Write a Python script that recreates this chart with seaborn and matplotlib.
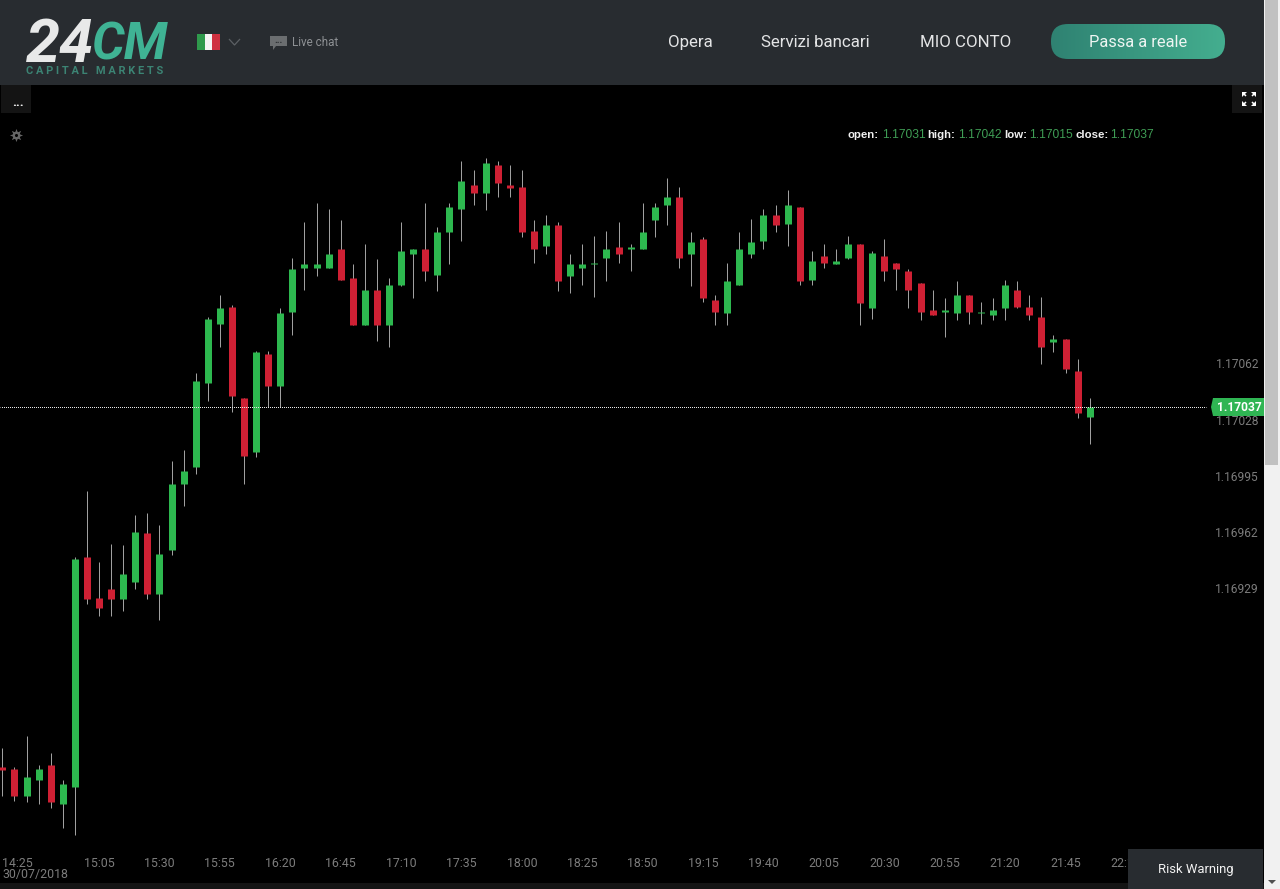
import numpy as np
import pandas as pd
import seaborn as sns
import matplotlib.pyplot as plt
from matplotlib.patches import Rectangle, Polygon, FancyBboxPatch

# 5 minute candles, 30/07/2018
opens = [
    1.16824, 1.16823, 1.16807, 1.16816, 1.16825, 1.16802, 1.16812, 1.16948, 1.16924, 1.16929,
    1.16923, 1.16933, 1.16962, 1.16926, 1.16952, 1.16991, 1.17001, 1.17051, 1.17086, 1.17096,
    1.17042, 1.17010, 1.17068, 1.17049, 1.17093, 1.17119, 1.17119, 1.17119, 1.17130, 1.17113,
    1.17085, 1.17106, 1.17085, 1.17109, 1.17127, 1.17130, 1.17115, 1.17140, 1.17154, 1.17168,
    1.17163, 1.17180, 1.17168, 1.17167, 1.17141, 1.17132, 1.17144, 1.17114, 1.17119, 1.17121,
    1.17125, 1.17131, 1.17130, 1.17130, 1.17147, 1.17156, 1.17161, 1.17127, 1.17136, 1.17100,
    1.17092, 1.17109, 1.17127, 1.17135, 1.17150, 1.17145, 1.17155, 1.17112, 1.17126, 1.17121,
    1.17125, 1.17133, 1.17095, 1.17126, 1.17122, 1.17117, 1.17110, 1.17094, 1.17093, 1.17092,
    1.17103, 1.17092, 1.17091, 1.17095, 1.17106, 1.17096, 1.17090, 1.17075, 1.17077, 1.17058,
    1.17031,
]
closes = [
    1.16822, 1.16807, 1.16818, 1.16823, 1.16803, 1.16814, 1.16947, 1.16923, 1.16918, 1.16923,
    1.16938, 1.16963, 1.16926, 1.16950, 1.16991, 1.16999, 1.17052, 1.17089, 1.17095, 1.17043,
    1.17008, 1.17069, 1.17049, 1.17092, 1.17118, 1.17121, 1.17121, 1.17127, 1.17112, 1.17085,
    1.17106, 1.17085, 1.17109, 1.17129, 1.17130, 1.17117, 1.17140, 1.17155, 1.17170, 1.17163,
    1.17181, 1.17169, 1.17166, 1.17140, 1.17130, 1.17144, 1.17111, 1.17121, 1.17121, 1.17122,
    1.17130, 1.17127, 1.17131, 1.17140, 1.17155, 1.17161, 1.17125, 1.17134, 1.17101, 1.17093,
    1.17111, 1.17130, 1.17134, 1.17150, 1.17144, 1.17156, 1.17111, 1.17123, 1.17122, 1.17123,
    1.17133, 1.17098, 1.17128, 1.17117, 1.17118, 1.17106, 1.17093, 1.17091, 1.17094, 1.17103,
    1.17093, 1.17093, 1.17094, 1.17109, 1.17096, 1.17091, 1.17072, 1.17077, 1.17059, 1.17033,
    1.17037,
]
highs = [
    1.16835, 1.16824, 1.16842, 1.16825, 1.16832, 1.16816, 1.16948, 1.16987, 1.16945, 1.16956,
    1.16955, 1.16973, 1.16974, 1.16967, 1.17005, 1.17011, 1.17057, 1.17090, 1.17103, 1.17097,
    1.17042, 1.17070, 1.17070, 1.17095, 1.17125, 1.17146, 1.17157, 1.17154, 1.17147, 1.17121,
    1.17133, 1.17124, 1.17113, 1.17146, 1.17130, 1.17157, 1.17143, 1.17157, 1.17182, 1.17177,
    1.17184, 1.17182, 1.17180, 1.17177, 1.17147, 1.17150, 1.17146, 1.17127, 1.17133, 1.17138,
    1.17141, 1.17146, 1.17133, 1.17157, 1.17157, 1.17172, 1.17167, 1.17140, 1.17137, 1.17103,
    1.17122, 1.17140, 1.17148, 1.17154, 1.17156, 1.17165, 1.17155, 1.17129, 1.17133, 1.17130,
    1.17138, 1.17133, 1.17129, 1.17136, 1.17122, 1.17118, 1.17110, 1.17106, 1.17101, 1.17111,
    1.17103, 1.17099, 1.17101, 1.17112, 1.17111, 1.17103, 1.17102, 1.17079, 1.17077, 1.17065,
    1.17042,
]
lows = [
    1.16807, 1.16804, 1.16803, 1.16802, 1.16800, 1.16788, 1.16784, 1.16920, 1.16913, 1.16913,
    1.16916, 1.16929, 1.16923, 1.16911, 1.16949, 1.16978, 1.16997, 1.17040, 1.17072, 1.17034,
    1.16991, 1.17007, 1.17037, 1.17037, 1.17079, 1.17106, 1.17114, 1.17119, 1.17112, 1.17085,
    1.17085, 1.17076, 1.17072, 1.17108, 1.17101, 1.17111, 1.17105, 1.17121, 1.17135, 1.17156,
    1.17153, 1.17161, 1.17161, 1.17137, 1.17122, 1.17127, 1.17105, 1.17104, 1.17109, 1.17102,
    1.17111, 1.17122, 1.17117, 1.17130, 1.17137, 1.17144, 1.17119, 1.17108, 1.17099, 1.17085,
    1.17085, 1.17109, 1.17125, 1.17130, 1.17140, 1.17132, 1.17109, 1.17109, 1.17119, 1.17121,
    1.17124, 1.17085, 1.17089, 1.17111, 1.17106, 1.17095, 1.17088, 1.17091, 1.17078, 1.17088,
    1.17086, 1.17086, 1.17088, 1.17088, 1.17095, 1.17088, 1.17062, 1.17069, 1.17057, 1.17030,
    1.17015,
]
price_ticks = [1.17062, 1.17028, 1.16995, 1.16962, 1.16929]
time_ticks = [0, 8, 13, 18, 23, 28, 33, 38, 43, 48, 53, 58, 63, 68, 73, 78, 83, 88, 93]
time_labels = ['14:25\n30/07/2018', '15:05', '15:30', '15:55', '16:20', '16:45', '17:10',
               '17:35', '18:00', '18:25', '18:50', '19:15', '19:40', '20:05', '20:30',
               '20:55', '21:20', '21:45', '22:10']

GREEN = '#2db84f'
RED = '#cf2034'
HEADER = '#282c30'

sns.set_theme(style='dark', rc={'lines.solid_capstyle': 'butt', 'axes.grid': False})
plt.rcParams['font.family'] = ['Roboto', 'DejaVu Sans']

fig = plt.figure(figsize=(12.8, 8.89), dpi=100, facecolor='#f1f1f1')

# chart area goes from y=85 to y=883, x=0 to x=1264
ax = fig.add_axes([0, (889 - 883) / 889, 1264 / 1280, (883 - 85) / 889], facecolor='black')

candles = np.arange(len(opens))
df = pd.DataFrame({'candle': candles, 'open': opens, 'high': highs, 'low': lows, 'close': closes})
df['direction'] = np.where(df['close'] >= df['open'], 'up', 'down')

wicks = df.melt(id_vars='candle', value_vars=['low', 'high'], value_name='price').sort_values('candle')
bodies = df.melt(id_vars=['candle', 'direction'], value_vars=['open', 'close'], value_name='price').sort_values('candle')

sns.lineplot(data=wicks, x='candle', y='price', units='candle', estimator=None, sort=False,
             color='#a0a0a0', linewidth=0.72, legend=False, ax=ax)
sns.lineplot(data=bodies, x='candle', y='price', units='candle', hue='direction',
             palette={'up': GREEN, 'down': RED}, estimator=None, sort=False,
             linewidth=5.04, legend=False, ax=ax)

ax.set_xlim(-0.2, 104.43)
ax.set_ylim(1.167554, 1.17227)
ax.set_xlabel('')
ax.set_ylabel('')
sns.despine(ax=ax, left=True, bottom=True)

# last price line, dotted with the dots lined up on whole pixels
ax.plot([-0.2, 99.66], [closes[-1], closes[-1]], color='#e8e8e8', linewidth=0.72,
        linestyle=(0.5, (1, 1)), zorder=5)

ax.yaxis.tick_right()
ax.set_yticks(price_ticks)
ax.set_yticklabels([f'{p:.5f}' for p in price_ticks], color='#7c7c7c', fontsize=8.64, ha='right', va='center')
ax.tick_params(axis='y', length=0, pad=-3.6)
ax.set_xticks(time_ticks)
ax.set_xticklabels(time_labels, color='#7c7c7c', fontsize=8.9, linespacing=0.85)
ax.tick_params(axis='x', length=0, pad=-19)
ax.get_xticklabels()[0].set_ha('left')

# page chrome on a pixel-sized overlay
ui = fig.add_axes([0, 0, 1, 1], facecolor='none', zorder=10)
ui.set_xlim(0, 1280)
ui.set_ylim(889, 0)
ui.axis('off')

ui.add_patch(Rectangle((0, 0), 1264, 85, color=HEADER, lw=0))
ui.add_patch(Rectangle((0, 883), 1264, 6, color='#141414', lw=0))
ui.add_patch(Rectangle((1265, 0), 13, 465, color='#c1c1c1', lw=0))
ui.add_patch(Polygon([(1268, 880), (1276, 880), (1272, 884)], color='#505050', lw=0))

# logo
narrow = ['Liberation Sans Narrow', 'Roboto']
ui.text(26, 62, '24', color='#e8e9e9', fontsize=44, fontweight='bold', style='italic',
        family=narrow, va='baseline')
ui.text(91, 60, 'CM', color='#3fb394', fontsize=37, fontweight='bold', style='italic',
        family=narrow, va='baseline')
ui.text(26, 71, 'C A P I T A L   M A R K E T S', color='#3c8474', fontsize=7.9, fontweight='bold',
        va='center')

# flag, language arrow, live chat
ui.add_patch(Rectangle((197, 34), 7.5, 16, color='#2f9a4c', lw=0))
ui.add_patch(Rectangle((204.5, 34), 7.5, 16, color='#f4f4f4', lw=0))
ui.add_patch(Rectangle((212, 34), 7.5, 16, color='#cf3040', lw=0))
ui.plot([229, 234.5, 240], [39, 45, 39], color='#5c6064', linewidth=0.9)
ui.add_patch(Polygon([(270, 36), (287, 36), (287, 46), (276, 46), (273, 50), (273, 46), (270, 46)],
                     color='#6b6e70', lw=0))
ui.text(278.5, 40, '...', color='#2a2d30', fontsize=7, fontweight='bold', ha='center', va='center')
ui.text(292, 42, 'Live chat', color='#8e9194', fontsize=8.4, va='center')

# nav
for x, label in [(668, 'Opera'), (761, 'Servizi bancari'), (920, 'MIO CONTO')]:
    ui.text(x, 47, label, color='#e4e5e6', fontsize=12.2, va='baseline')

button = FancyBboxPatch((1051 + 17, 24 + 17), 174 - 34, 35 - 34, boxstyle='round,pad=17,rounding_size=17',
                        fc='none', ec='none', transform=ui.transData)
ui.add_patch(button)
grad = ui.imshow(np.linspace(0, 1, 256).reshape(1, -1), extent=(1051, 1225, 59, 24), aspect='auto',
                 cmap=sns.blend_palette(['#2f8272', '#44ae8f'], as_cmap=True), zorder=1)
grad.set_clip_path(button)
ui.set_xlim(0, 1280)
ui.set_ylim(889, 0)
ui.text(1138, 47, 'Passa a reale', color='#eef5f2', fontsize=11.8, ha='center', va='baseline', zorder=2)

# chart buttons
ui.add_patch(Rectangle((1, 85), 30, 28, color='#141414', lw=0))
ui.text(18, 102, '...', color='white', fontsize=9.5, fontweight='bold', ha='center', va='center')
ui.add_patch(Rectangle((1232, 85), 30, 28, color='#141414', lw=0))
for sx, sy in [(-1, -1), (1, -1), (-1, 1), (1, 1)]:
    cx, cy = 1249 + sx * 2, 99 + sy * 2
    ui.add_patch(Polygon([(cx + sx * 5, cy + sy * 5), (cx, cy + sy * 5), (cx + sx * 5, cy)],
                         color='white', lw=0))
    ui.plot([cx + sx * 1, cx + sx * 4], [cy + sy * 1, cy + sy * 4], color='white', linewidth=1.1)

# settings gear
ui.plot([15.5], [135], marker=(8, 1, 0), markersize=9.5, color='#666666', markeredgewidth=0)
ui.plot([15.5], [135], marker='o', markersize=5.5, color='#666666', markeredgewidth=0)
ui.plot([15.5], [135], marker='o', markersize=2.2, color='black', markeredgewidth=0)

# ohlc legend
ohlc = [('open:', 847, opens[-1], 882), ('high:', 927, highs[-1], 958),
        ('low:', 1004, lows[-1], 1029), ('close:', 1075, closes[-1], 1110)]
for name, name_x, value, value_x in ohlc:
    ui.text(name_x, 135.5, name, color='#f0f0f0', fontsize=8.2, fontweight='bold',
            family='Liberation Sans', va='center')
    ui.text(value_x, 135.5, f'{value:.5f}', color='#3f9d55', fontsize=8.64,
            family='Liberation Sans', va='center')

# last price tag
ui.add_patch(Polygon([(1211, 407), (1213, 398), (1264, 398), (1264, 416), (1213, 416)], color='#2fb553', lw=0))
ui.text(1217, 407.5, f'{closes[-1]:.5f}', color='white', fontsize=8.64, fontweight='bold', va='center')

# risk warning panel
ui.add_patch(Rectangle((1128, 849), 135, 40, color=HEADER, lw=0))
ui.text(1195.5, 869, 'Risk Warning', color='#f2f2f2', fontsize=9.4, ha='center', va='center')

fig.savefig('out.png', dpi=100, facecolor=fig.get_facecolor())
